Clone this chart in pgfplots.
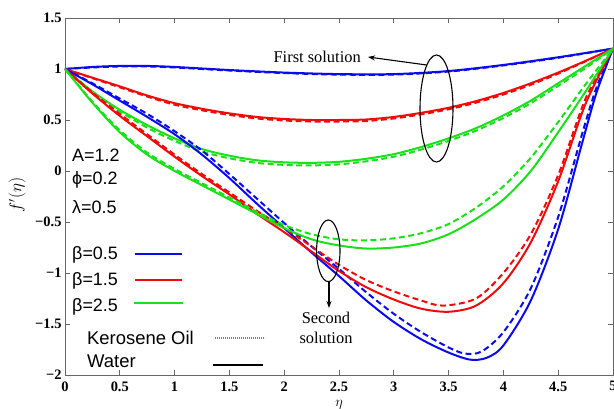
\documentclass[border=0pt]{standalone}
\usepackage{pgfplots}
\pgfplotsset{compat=1.18}
\usepackage{fontspec}
\setmainfont{Liberation Serif}
\newfontfamily\sansf{Liberation Sans}
\usetikzlibrary{arrows.meta}
\definecolor{cb}{RGB}{10,10,240}
\definecolor{cr}{RGB}{240,10,10}
\definecolor{cg}{RGB}{25,225,25}
\begin{document}
\begin{tikzpicture}
\useasboundingbox (-65bp,-34bp) rectangle (549bp,375bp);
\begin{axis}[at={(0,0)}, anchor=south west, scale only axis,
  width=548bp, height=357bp,
  xmin=0, xmax=5, ymin=-2, ymax=1.5,
  xtick={0,0.5,1,1.5,2,2.5,3,3.5,4,4.5,5},
  xticklabels={0,0.5,1,1.5,2,2.5,3,3.5,4,4.5,5},
  ytick={-2,-1.5,-1,-0.5,0,0.5,1,1.5},
  yticklabels={−2,−1.5,−1,−0.5,0,0.5,1,1.5},
  ticklabel style={font=\fontsize{14.5}{14.5}\selectfont\bfseries},
  xticklabel style={yshift=-3bp},
  axis line style={gray!80!black, line width=0.6bp},
  tick style={gray!80!black, line width=0.6bp},
  major tick length=5bp,
  tick align=inside,
  clip mode=individual,
  every axis plot/.style={line width=2bp, smooth, tension=0.5, no markers},
  kd/.style={dash pattern=on 6bp off 3.5bp},
]
% ---------- first solutions ----------
\addplot[cb] coordinates {(0,1) (0.25,1.02) (0.5,1.03) (0.75,1.03) (1,1.02) (1.5,0.99) (2,0.965) (2.5,0.95) (3,0.95) (3.5,0.98) (4,1.04) (4.5,1.115) (5,1.2)};
\addplot[cb,kd] coordinates {(0,1) (0.25,1.015) (0.5,1.025) (0.75,1.025) (1,1.015) (1.5,0.985) (2,0.96) (2.5,0.945) (3,0.945) (3.5,0.975) (4,1.035) (4.5,1.11) (5,1.2)};
\addplot[cr] coordinates {(0,1) (0.25,0.915) (0.5,0.83) (0.75,0.74) (1,0.665) (1.25,0.61) (1.5,0.565) (1.75,0.53) (2,0.51) (2.25,0.5) (2.5,0.5) (2.75,0.505) (3,0.53) (3.25,0.57) (3.5,0.62) (3.75,0.685) (4,0.765) (4.25,0.86) (4.5,0.965) (4.75,1.08) (5,1.2)};
\addplot[cr,kd] coordinates {(0,1) (0.25,0.91) (0.5,0.82) (0.75,0.73) (1,0.65) (1.25,0.595) (1.5,0.55) (1.75,0.515) (2,0.495) (2.25,0.485) (2.5,0.485) (2.75,0.49) (3,0.515) (3.25,0.555) (3.5,0.605) (3.75,0.67) (4,0.75) (4.25,0.845) (4.5,0.955) (4.75,1.075) (5,1.2)};
\addplot[cg] coordinates {(0,1) (0.25,0.78) (0.5,0.6) (0.75,0.45) (1,0.32) (1.25,0.215) (1.5,0.15) (1.75,0.105) (2,0.085) (2.25,0.08) (2.5,0.09) (2.75,0.12) (3,0.165) (3.25,0.235) (3.5,0.32) (3.75,0.42) (4,0.545) (4.25,0.69) (4.5,0.86) (4.75,1.03) (5,1.2)};
\addplot[cg,kd] coordinates {(0,1) (0.25,0.775) (0.5,0.585) (0.75,0.425) (1,0.295) (1.25,0.19) (1.5,0.125) (1.75,0.08) (2,0.06) (2.25,0.055) (2.5,0.065) (2.75,0.095) (3,0.14) (3.25,0.21) (3.5,0.295) (3.75,0.395) (4,0.52) (4.25,0.665) (4.5,0.835) (4.75,1.01) (5,1.2)};
% ---------- second solutions ----------
\addplot[cb] coordinates {(0,1) (0.25,0.85) (0.5,0.69) (0.75,0.53) (1,0.36) (1.25,0.16) (1.5,-0.07) (1.75,-0.32) (2,-0.56) (2.25,-0.8) (2.5,-1.03) (2.75,-1.27) (3,-1.48) (3.25,-1.65) (3.5,-1.78) (3.7,-1.85) (3.85,-1.83) (4,-1.71) (4.25,-1.27) (4.5,-0.57) (4.72,0.28) (4.85,0.77) (5,1.2)};
\addplot[cb,kd] coordinates {(0,1) (0.25,0.86) (0.5,0.71) (0.75,0.56) (1,0.39) (1.25,0.2) (1.5,-0.03) (1.75,-0.27) (2,-0.51) (2.25,-0.74) (2.5,-0.96) (2.75,-1.19) (3,-1.4) (3.25,-1.58) (3.5,-1.73) (3.65,-1.79) (3.8,-1.77) (4,-1.58) (4.25,-1.15) (4.5,-0.45) (4.72,0.37) (4.85,0.82) (5,1.2)};
\addplot[cr] coordinates {(0,1) (0.25,0.76) (0.5,0.54) (0.75,0.34) (1,0.14) (1.25,-0.05) (1.5,-0.23) (1.75,-0.42) (2,-0.6) (2.25,-0.79) (2.5,-0.98) (2.75,-1.14) (3,-1.26) (3.25,-1.35) (3.5,-1.38) (3.75,-1.32) (4,-1.1) (4.25,-0.7) (4.5,-0.1) (4.75,0.66) (5,1.2)};
\addplot[cr,kd] coordinates {(0,1) (0.25,0.77) (0.5,0.56) (0.75,0.36) (1,0.16) (1.25,-0.03) (1.5,-0.21) (1.75,-0.39) (2,-0.56) (2.25,-0.74) (2.5,-0.92) (2.75,-1.07) (3,-1.18) (3.25,-1.27) (3.45,-1.32) (3.75,-1.25) (4,-1.0) (4.25,-0.62) (4.5,-0.04) (4.75,0.71) (5,1.2)};
\addplot[cg] coordinates {(0,1) (0.25,0.67) (0.5,0.38) (0.75,0.16) (1,0.0) (1.25,-0.14) (1.5,-0.28) (1.75,-0.42) (2,-0.56) (2.25,-0.67) (2.5,-0.73) (2.75,-0.76) (3,-0.75) (3.25,-0.71) (3.5,-0.62) (3.75,-0.47) (4,-0.28) (4.25,0.0) (4.5,0.38) (4.75,0.78) (5,1.2)};
\addplot[cg,kd] coordinates {(0,1) (0.25,0.68) (0.5,0.4) (0.75,0.18) (1,0.02) (1.25,-0.12) (1.5,-0.26) (1.75,-0.4) (2,-0.53) (2.25,-0.62) (2.5,-0.67) (2.75,-0.68) (3,-0.66) (3.25,-0.61) (3.5,-0.52) (3.75,-0.36) (4,-0.15) (4.25,0.13) (4.5,0.48) (4.75,0.85) (5,1.2)};
\end{axis}
% ---------- annotations ----------
\draw[line width=1.1bp] (371.5bp,266.5bp) ellipse [x radius=16.5bp, y radius=53.5bp];
\draw[line width=1.1bp, -{Stealth[length=7bp,width=5bp]}] (361.7bp,310bp) -- (303bp,318bp);
\node[font=\fontsize{16.5}{16.5}\selectfont, anchor=east, inner sep=0] at (296bp,318bp) {First solution};
\draw[line width=1.1bp] (263.3bp,124.2bp) ellipse [x radius=11.7bp, y radius=30.8bp];
\draw[line width=1.1bp, -{Stealth[length=7bp,width=5bp]}] (264bp,93.4bp) -- (264bp,67bp);
\node[font=\fontsize{16.5}{20}\selectfont, align=center, inner sep=0] at (261bp,47bp) {Second\\solution};
% ---------- labels ----------
\node[font=\sansf\fontsize{18}{18}\selectfont, anchor=west, inner sep=0] at (7bp,220bp) {A=1.2};
\node[font=\sansf\fontsize{18}{18}\selectfont, anchor=west, inner sep=0] at (7bp,195bp) {ϕ=0.2};
\node[font=\sansf\fontsize{18}{18}\selectfont, anchor=west, inner sep=0] at (7bp,168bp) {λ=0.5};
\node[font=\sansf\fontsize{18}{18}\selectfont, anchor=west, inner sep=0] at (7bp,120bp) {β=0.5};
\node[font=\sansf\fontsize{18}{18}\selectfont, anchor=west, inner sep=0] at (7bp,94bp) {β=1.5};
\node[font=\sansf\fontsize{18}{18}\selectfont, anchor=west, inner sep=0] at (7bp,68.5bp) {β=2.5};
\draw[cb, line width=2bp] (70bp,121bp) -- (117bp,121bp);
\draw[cr, line width=2bp] (70bp,95bp) -- (117bp,95bp);
\draw[cg, line width=2bp] (69bp,72bp) -- (118bp,72bp);
\node[font=\sansf\fontsize{18.5}{18.5}\selectfont, anchor=west, inner sep=0] at (22bp,37bp) {Kerosene Oil};
\node[font=\sansf\fontsize{18.5}{18.5}\selectfont, anchor=west, inner sep=0] at (22bp,14bp) {Water};
\draw[gray, line width=1.2bp, dash pattern=on 1bp off 1bp] (150bp,37bp) -- (200bp,37bp);
\draw[black, line width=2.2bp] (148bp,10bp) -- (198bp,10bp);
\node[font=\fontsize{16}{16}\selectfont, rotate=90] at (-48bp,180bp) {$f'(\eta)$};
\node[font=\fontsize{14}{14}\selectfont, inner sep=0] at (274bp,-29.5bp) {$\eta$};
\end{tikzpicture}
\end{document}
